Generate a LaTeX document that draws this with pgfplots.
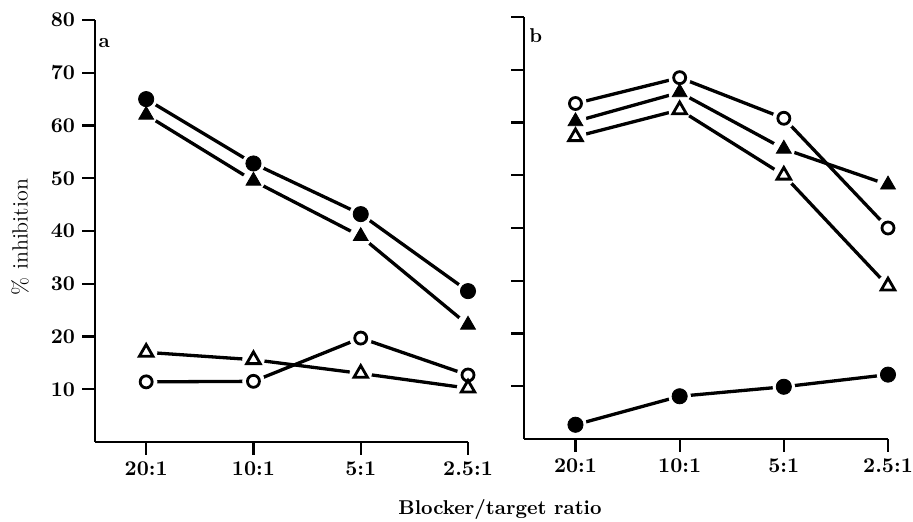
\documentclass[border=0pt]{standalone}
\usepackage{pgfplots}
\pgfplotsset{compat=1.18}
\usepackage{pgfplotstable}

\pgfplotstableread{
x fc ft ot oc
0 65 62 17 11.4
1 52.8 49.5 15.6 11.5
2 43.2 39 13 19.7
3 28.6 22.2 10.2 12.7
}\dataA
\pgfplotstableread{
x fc ft ot oc
0 2.7 60.2 57.3 63.6
1 8.1 65.7 62.4 68.5
2 9.9 55 50 60.8
3 12.2 48.2 29 40
}\dataB

\pgfplotsset{
  panel/.style={
    scale only axis, height=211pt,
    xmax=3, ymin=0, ymax=80,
    axis x line*=bottom, axis y line*=left,
    axis line style={line width=1.15pt,-},
    tick style={line width=1.15pt, black},
    tick align=outside, major tick length=6.5pt,
    xtick={0,1,2,3}, xticklabels={20:1,10:1,5:1,2.5:1},
    ytick={10,20,...,80},
    tick label style={font=\fontsize{10.5}{12}\bfseries\selectfont},
    /pgf/number format/assume math mode=true,
    clip=false,
  },
  dline/.style={black, line width=1.65pt, mark=none},
  halo/.style={only marks, mark=*, mark size=5.4pt, mark options={draw=white, fill=white}},
}

\newcommand{\series}[1]{%
  \addplot[dline] table[x=x,y=fc]{#1};
  \addplot[dline] table[x=x,y=ft]{#1};
  \addplot[dline] table[x=x,y=ot]{#1};
  \addplot[dline] table[x=x,y=oc]{#1};
  \addplot[halo] table[x=x,y=fc]{#1};
  \addplot[halo] table[x=x,y=ft]{#1};
  \addplot[halo] table[x=x,y=ot]{#1};
  \addplot[halo] table[x=x,y=oc]{#1};
  \addplot[only marks, mark=*, mark size=3.8pt, mark options={fill=black, draw=black}] table[x=x,y=fc]{#1};
  \addplot[only marks, mark=triangle*, mark size=4.3pt, mark options={fill=black, draw=black}] table[x=x,y=ft]{#1};
  \addplot[only marks, mark=triangle, mark size=3.9pt, mark options={fill=white, draw=black, line width=1.4pt}] table[x=x,y=ot]{#1};
  \addplot[only marks, mark=o, mark size=3.0pt, mark options={fill=white, draw=black, line width=1.4pt}] table[x=x,y=oc]{#1};
}

\begin{document}
\begin{tikzpicture}
\path[use as bounding box] (0,0) rectangle (456.5pt,261pt);

\begin{axis}[panel, at={(47.5pt,40pt)}, anchor=south west, width=186.5pt, xmin=-0.477]
\series{\dataA}
\node[font=\bfseries] at (axis cs:-0.39,75.6) {a};
\end{axis}

\begin{axis}[panel, at={(262pt,41.5pt)}, anchor=south west, width=182pt, xmin=-0.494, yticklabels={}]
\series{\dataB}
\node[font=\bfseries] at (axis cs:-0.38,76.5) {b};
\end{axis}

\node[rotate=90, font=\fontsize{11}{13}\selectfont] at (10pt,142.5pt) {\% inhibition};
\node[font=\bfseries] at (250pt,6pt) {Blocker/target ratio};
\end{tikzpicture}
\end{document}
